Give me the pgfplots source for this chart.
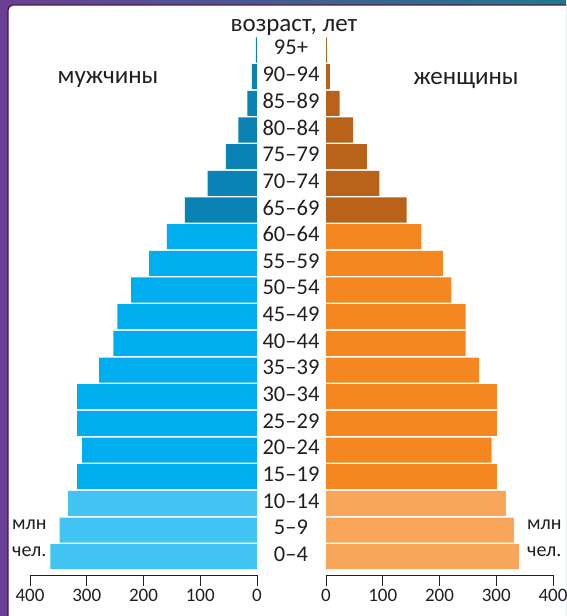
\documentclass[border=0pt]{standalone}
\usepackage{fontspec}
\setmainfont{Carlito}
\usepackage{pgfplots}
\pgfplotsset{compat=1.18}
\usepackage{pgfplotstable}

\definecolor{txt}{HTML}{231F20}
\definecolor{lblue}{HTML}{41C4F2}
\definecolor{mblue}{HTML}{00AEEF}
\definecolor{dblue}{HTML}{0A82B4}
\definecolor{lorange}{HTML}{F9A65A}
\definecolor{morange}{HTML}{F58720}
\definecolor{dorange}{HTML}{B8621A}
\definecolor{bgpurple}{HTML}{6A3F96}
\definecolor{bgteal}{HTML}{1D7A8C}
\definecolor{panelborder}{HTML}{4A1538}

% idx: 0 = 0-4, ..., 19 = 95+ ; values in millions
\pgfplotstableread{
idx men women
0  364 340
1  348 331
2  333 317
3  317 301
4  308 292
5  317 301
6  317 301
7  278 270
8  253 246
9  246 246
10 222 221
11 190 206
12 159 168
13 127 142
14 87  94
15 55  72
16 33  48
17 17  24
18 9   7
19 2   1.5
}\pyramid

\begin{document}
\begin{tikzpicture}[x=1pt,y=1pt]
\useasboundingbox (0,0) rectangle (566,616);
\begin{scope}
\clip (0,0) rectangle (566,616);
\shade[left color=bgpurple, right color=bgteal] (0,0) rectangle (566,616);
\filldraw[fill=white, draw=panelborder, line width=1.2pt, rounded corners=5pt] (8,-20) rectangle (590,611);
\end{scope}

\pgfplotsset{
  pyr/.style={
    scale only axis, width=227pt, height=538.3pt,
    xmin=0, xmax=400, ymin=-0.686, ymax=19.5,
    axis x line*=bottom,
    x axis line style={draw=txt, line width=0.7pt},
    xtick={0,100,200,300,400},
    tick align=outside, major tick length=11pt,
    xtick style={draw=txt, line width=0.7pt},
    /pgf/number format/assume math mode=true,
    xticklabel style={font=\fontsize{19}{22}\selectfont, text=txt},
    xbar, bar width=0.94, bar shift=0pt,
    every axis plot/.append style={draw=none},
    clip=false,
  }
}

\begin{axis}[pyr, at={(30pt,41pt)}, anchor=south west, x dir=reverse, hide y axis]
\addplot[fill=lblue] table[x=men, y=idx, restrict y to domain=0:2] {\pyramid};
\addplot[fill=mblue] table[x=men, y=idx, restrict y to domain=3:12] {\pyramid};
\addplot[fill=dblue] table[x=men, y=idx, restrict y to domain=13:19] {\pyramid};
\end{axis}

\begin{axis}[pyr, at={(326pt,41pt)}, anchor=south west,
  axis y line*=left, y axis line style={draw=none},
  ytick={0,...,19}, ytick style={draw=none},
  yticklabels={0–4,5–9,10–14,15–19,20–24,25–29,30–34,35–39,40–44,45–49,50–54,55–59,60–64,65–69,70–74,75–79,80–84,85–89,90–94,95+},
  yticklabel style={anchor=center, xshift=-24pt, yshift=2.5pt, text=txt, font=\fontsize{22.5}{26}\selectfont}]
\addplot[fill=lorange] table[x=women, y=idx, restrict y to domain=0:2] {\pyramid};
\addplot[fill=morange] table[x=women, y=idx, restrict y to domain=3:12] {\pyramid};
\addplot[fill=dorange] table[x=women, y=idx, restrict y to domain=13:19] {\pyramid};
\end{axis}

\node[text=txt, font=\fontsize{25}{29}\selectfont] at (294, 616-27) {возраст, лет};
\node[text=txt, font=\fontsize{25}{29}\selectfont] at (108, 616-80) {мужчины};
\node[text=txt, font=\fontsize{25}{29}\selectfont] at (466, 616-80) {женщины};
\node[text=txt, font=\fontsize{20}{23}\selectfont, anchor=west, inner sep=0pt] at (12, 616-525) {млн};
\node[text=txt, font=\fontsize{20}{23}\selectfont, anchor=west, inner sep=0pt] at (12, 616-552) {чел.};
\node[text=txt, font=\fontsize{20}{23}\selectfont, anchor=west, inner sep=0pt] at (527, 616-525) {млн};
\node[text=txt, font=\fontsize{20}{23}\selectfont, anchor=west, inner sep=0pt] at (527, 616-552) {чел.};
\end{tikzpicture}
\end{document}
